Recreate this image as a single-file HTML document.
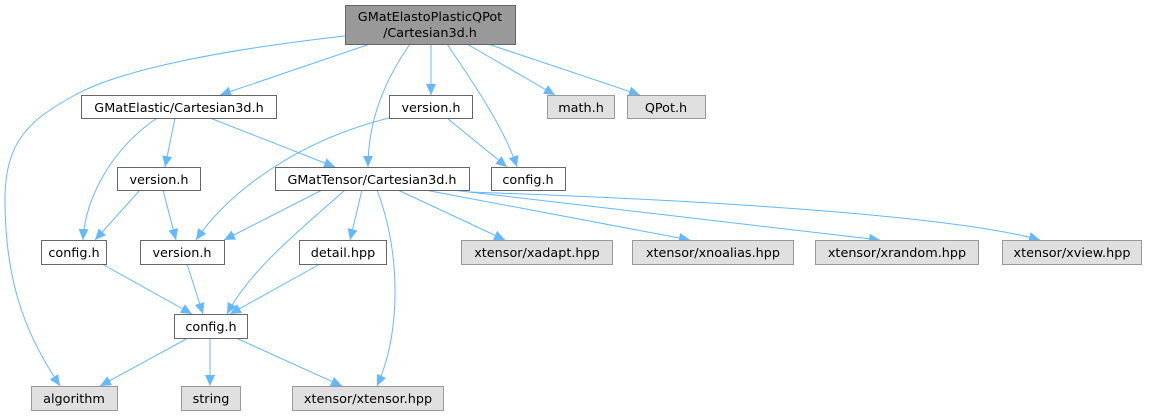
<!DOCTYPE html>
<html><head><meta charset="utf-8"><style>
html,body{margin:0;padding:0;background:#fff;}
svg{display:block;}
text{font-family:"DejaVu Sans","Liberation Sans",sans-serif;font-size:12.8px;fill:#000;}
.n{fill:#fff;stroke:#666;stroke-width:1;}
.g{fill:#e0e0e0;stroke:#999;stroke-width:1;}
.e{fill:none;stroke:#63b8ff;stroke-width:1;}
</style></head><body>
<svg width="1149" height="417" viewBox="0 0 1149 417" xmlns="http://www.w3.org/2000/svg">
<defs><marker id="a" markerUnits="userSpaceOnUse" markerWidth="12" markerHeight="12" viewBox="0 0 12 12" refX="11" refY="6" orient="auto"><path d="M0,1 L11,6 L0,11 z" fill="#63b8ff"/></marker></defs>
<g class="e" marker-end="url(#a)">
<path d="M345,36 C220,50 120,70 75,95 C30,120 5,140 5,200 C5,290 30,340 60,386"/>
<path d="M370,44 L220,95"/>
<path d="M410,44 C385,80 368,120 368,167"/>
<path d="M431,44 L431,95"/>
<path d="M447,44 C475,85 505,130 517,167"/>
<path d="M467,44 L555,95"/>
<path d="M488,44 L640,95"/>
<path d="M157,118 C110,150 85,200 83,240"/>
<path d="M175,118 L165,167"/>
<path d="M210,118 L335,167"/>
<path d="M389,118 C300,140 230,190 196,240"/>
<path d="M447,118 L507,167"/>
<path d="M140,190 L95,240"/>
<path d="M163,190 L176,240"/>
<path d="M322,190 L224,240"/>
<path d="M345,190 C300,230 250,270 227,314"/>
<path d="M362,190 L350,240"/>
<path d="M377,190 C400,250 402,330 377,386"/>
<path d="M398,190 L505,240"/>
<path d="M425,190 L690,240"/>
<path d="M452,190 L880,240"/>
<path d="M469,192 C700,200 950,215 1040,240"/>
<path d="M102,264 L192,314"/>
<path d="M187,264 L203,314"/>
<path d="M320,264 L230,314"/>
<path d="M188,338 L100,386"/>
<path d="M210,338 L210,386"/>
<path d="M236,338 L342,386"/>
</g>
<rect x="345.5" y="5.5" width="170" height="39" fill="#999" stroke="#666"/>
<text x="430" y="21" text-anchor="middle">GMatElastoPlasticQPot</text>
<text x="430" y="37" text-anchor="middle">/Cartesian3d.h</text>
<rect class="n" x="81.5" y="95.5" width="195" height="23"/><text x="179" y="112" text-anchor="middle">GMatElastic/Cartesian3d.h</text>
<rect class="n" x="389.5" y="95.5" width="83" height="23"/><text x="431" y="112" text-anchor="middle">version.h</text>
<rect class="g" x="547.5" y="95.5" width="67" height="23"/><text x="581" y="112" text-anchor="middle">math.h</text>
<rect class="g" x="627.5" y="95.5" width="78" height="23"/><text x="666" y="112" text-anchor="middle">QPot.h</text>
<rect class="n" x="117.5" y="167.5" width="83" height="23"/><text x="159" y="184" text-anchor="middle">version.h</text>
<rect class="n" x="275.5" y="167.5" width="194" height="23"/><text x="372" y="184" text-anchor="middle">GMatTensor/Cartesian3d.h</text>
<rect class="n" x="491.5" y="167.5" width="74" height="23"/><text x="528" y="184" text-anchor="middle">config.h</text>
<rect class="n" x="41.5" y="240.5" width="65" height="24"/><text x="74" y="257" text-anchor="middle">config.h</text>
<rect class="n" x="140.5" y="240.5" width="84" height="24"/><text x="182" y="257" text-anchor="middle">version.h</text>
<rect class="n" x="299.5" y="240.5" width="87" height="24"/><text x="343" y="257" text-anchor="middle">detail.hpp</text>
<rect class="g" x="461.5" y="240.5" width="151" height="24"/><text x="537" y="257" text-anchor="middle">xtensor/xadapt.hpp</text>
<rect class="g" x="632.5" y="240.5" width="161" height="24"/><text x="713" y="257" text-anchor="middle">xtensor/xnoalias.hpp</text>
<rect class="g" x="815.5" y="240.5" width="163" height="24"/><text x="897" y="257" text-anchor="middle">xtensor/xrandom.hpp</text>
<rect class="g" x="1002.5" y="240.5" width="139" height="24"/><text x="1072" y="257" text-anchor="middle">xtensor/xview.hpp</text>
<rect class="n" x="174.5" y="314.5" width="73" height="24"/><text x="211" y="331" text-anchor="middle">config.h</text>
<rect class="g" x="31.5" y="386.5" width="86" height="24"/><text x="74" y="403" text-anchor="middle">algorithm</text>
<rect class="g" x="181.5" y="386.5" width="59" height="24"/><text x="211" y="403" text-anchor="middle">string</text>
<rect class="g" x="292.5" y="386.5" width="151" height="24"/><text x="368" y="403" text-anchor="middle">xtensor/xtensor.hpp</text>
</svg>
</body></html>
